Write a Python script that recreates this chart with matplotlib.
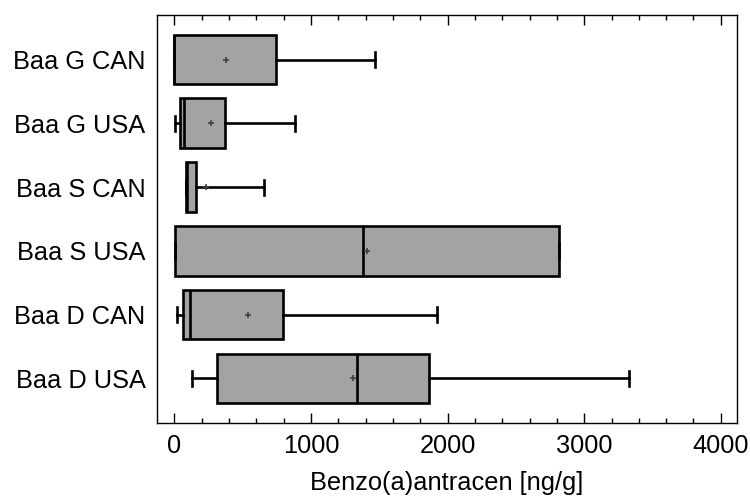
import matplotlib
matplotlib.use("Agg")
import matplotlib.pyplot as plt
from matplotlib.ticker import MultipleLocator

plt.rcParams['font.family'] = ['Liberation Sans', 'DejaVu Sans']

categories = ["Baa G CAN", "Baa G USA", "Baa S CAN", "Baa S USA", "Baa D CAN", "Baa D USA"]
whislo = [0, 7, 81, 7, 20, 130]
q1 = [0, 44, 81, 7, 64, 308]
med = [0, 72, 95, 1382, 110, 1333]
q3 = [745, 371, 156, 2816, 791, 1863]
whishi = [1468, 882, 654, 2816, 1919, 3328]
means = [374, 266, 230, 1411, 540, 1309]

stats = []
for i, c in enumerate(categories):
    stats.append(dict(label=c, whislo=whislo[i], q1=q1[i], med=med[i],
                      q3=q3[i], whishi=whishi[i], mean=means[i], fliers=[]))

fig = plt.figure(figsize=(7.5, 4.99), dpi=100)
ax = fig.add_axes([0.2097, 0.1523, 0.7725, 0.8177])

fs = 18.3
lw = 1.9
ax.bxp(stats, positions=list(range(len(categories))), vert=False, widths=0.78,
       patch_artist=True, showmeans=True, showfliers=False, capwidths=0.235,
       boxprops=dict(facecolor="#a3a3a3", edgecolor="black", linewidth=lw),
       medianprops=dict(color="black", linewidth=lw),
       whiskerprops=dict(color="black", linewidth=lw),
       capprops=dict(color="black", linewidth=lw),
       meanprops=dict(marker="+", markeredgecolor="#404040", markersize=5, markeredgewidth=1.2))

ax.set_xlim(-126, 4116)
ax.set_ylim(5.7, -0.7)
ax.set_yticks(range(len(categories)))
ax.set_yticklabels(categories, fontsize=fs)
ax.tick_params(axis="y", length=0, pad=8.5)
ax.xaxis.set_major_locator(MultipleLocator(1000))
ax.xaxis.set_minor_locator(MultipleLocator(200))
ax.tick_params(axis="x", which="both", direction="in", top=True, bottom=True, labelsize=fs, pad=8)
ax.tick_params(axis="x", which="major", length=7, width=1)
ax.tick_params(axis="x", which="minor", length=3.5, width=1)
ax.set_xlabel("Benzo(a)antracen [ng/g]", fontsize=fs, labelpad=9)
for s in ax.spines.values():
    s.set_linewidth(1.0)

fig.savefig("out.png", dpi=100)
